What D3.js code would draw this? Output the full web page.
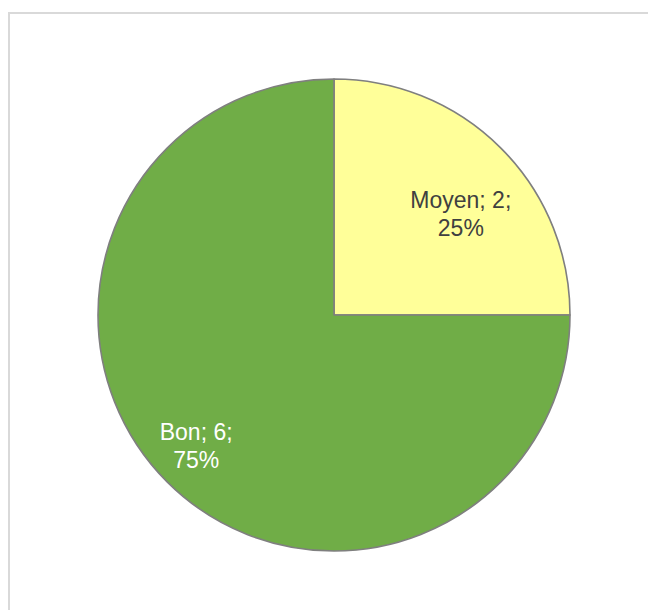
<!DOCTYPE html>
<html>
<head>
<meta charset="utf-8">
<script src="https://cdn.jsdelivr.net/npm/d3@7"></script>
<style>
  html, body { margin: 0; padding: 0; background: #ffffff; }
  svg { display: block; }
</style>
</head>
<body>
<svg id="chart" width="648" height="610"></svg>
<script>
// Categories and their counts
const categories = ["Moyen", "Bon"];
const values = [2, 6];
const colors = ["#ffff99", "#70ad47"];
const labelColors = ["#404040", "#ffffff"];

const svg = d3.select("#chart");
const W = 648, H = 610;

// chart frame (runs past the right and bottom edges)
svg.append("rect")
  .attr("x", 9).attr("y", 13)
  .attr("width", W + 20).attr("height", H + 20)
  .attr("fill", "#ffffff")
  .attr("stroke", "#d9d9d9")
  .attr("stroke-width", 2);

const cx = 334, cy = 315, radius = 236;
const total = d3.sum(values);
const data = categories.map((c, i) => ({ name: c, value: values[i], color: colors[i], labelColor: labelColors[i] }));

const pie = d3.pie().sort(null).value(d => d.value);
const arcs = pie(data);
const arc = d3.arc().innerRadius(0).outerRadius(radius);

const g = svg.append("g").attr("transform", `translate(${cx},${cy})`);

g.selectAll("path.slice")
  .data(arcs)
  .enter().append("path")
  .attr("class", "slice")
  .attr("d", arc)
  .attr("fill", d => d.data.color)
  .attr("stroke", "#7f7f7f")
  .attr("stroke-width", 1.6)
  .attr("stroke-linejoin", "round");

// label placement: radius fraction per slice plus a small fit nudge
const labelRadius = [0.67, 0.826];
const labelNudge = [[15, 18], [0, 0]];
const fmtPct = d3.format(".0%");

const labels = g.selectAll("text.lbl")
  .data(arcs)
  .enter().append("text")
  .attr("class", "lbl")
  .attr("text-anchor", "middle")
  .attr("font-family", "Liberation Sans, Arial, sans-serif")
  .attr("font-size", 23)
  .attr("fill", d => d.data.labelColor)
  .attr("transform", (d, i) => {
    const r = radius * labelRadius[i];
    const a = d3.arc().innerRadius(r).outerRadius(r);
    const [x, y] = a.centroid(d);
    return `translate(${x + labelNudge[i][0]},${y + labelNudge[i][1]})`;
  });

labels.append("tspan")
  .attr("x", 0).attr("dy", -13)
  .text(d => `${d.data.name}; ${d.data.value};`);
labels.append("tspan")
  .attr("x", 0).attr("dy", 28)
  .text(d => fmtPct(d.data.value / total));
</script>
</body>
</html>
